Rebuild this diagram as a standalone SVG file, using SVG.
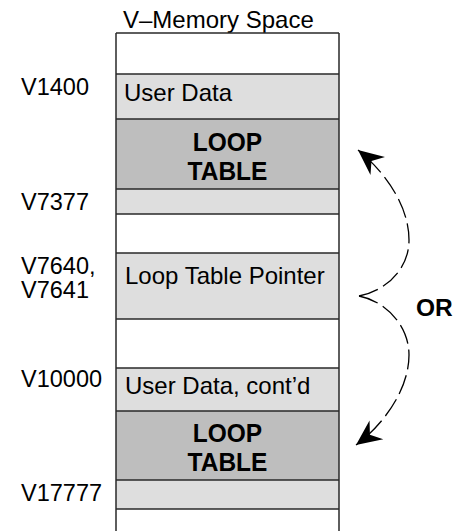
<svg xmlns="http://www.w3.org/2000/svg" width="462" height="531" viewBox="0 0 462 531">
<style>
  text { font-family: "Liberation Sans", Arial, Helvetica, sans-serif; fill: #000; }
  .lbl { font-size: 23.5px; }
  .txt { font-size: 24px; }
  .bold { font-size: 24.5px; font-weight: bold; }
  .white { fill: #ffffff; }
  .light { fill: #dedede; }
  .dark { fill: #bebebe; }
  .sep { stroke: #2a2a2a; stroke-width: 1.5; fill: none; }
  .side { stroke: #2a2a2a; stroke-width: 1.5; fill: none; }
  .conn { stroke: #000; stroke-width: 1.3; fill: none; stroke-dasharray: 20 6; }
</style>
<defs>
  <marker id="arrow" markerUnits="userSpaceOnUse" markerWidth="30" markerHeight="30" viewBox="-24 -12 26 24" refX="0" refY="0" orient="auto">
    <path d="M0,0 L-22,-10 L-15,0 L-22,10 Z" fill="#000"/>
  </marker>
</defs>

<text id="title" class="txt" x="123" y="28">V–Memory Space</text>

<g id="labels">
  <text class="lbl" x="21" y="95">V1400</text>
  <text class="lbl" x="21" y="210">V7377</text>
  <text class="lbl" x="21" y="274">V7640,</text>
  <text class="lbl" x="21" y="298">V7641</text>
  <text class="lbl" x="21" y="387">V10000</text>
  <text class="lbl" x="21" y="501">V17777</text>
</g>

<g id="row-top"><rect class="white" x="116" y="33" width="223" height="41"/></g>
<g id="row-userdata"><rect class="light" x="116" y="74" width="223" height="45"/><text class="txt" x="124" y="101">User Data</text></g>
<g id="row-looptable1"><rect class="dark" x="116" y="119" width="223" height="70"/><text class="bold" text-anchor="middle" transform="translate(227.5,151) scale(1,1.08)">LOOP</text><text class="bold" text-anchor="middle" transform="translate(227.5,180) scale(1,1.08)">TABLE</text></g>
<g id="row-v7377"><rect class="light" x="116" y="189" width="223" height="25"/></g>
<g id="row-gap1"><rect class="white" x="116" y="214" width="223" height="39"/></g>
<g id="row-pointer"><rect class="light" x="116" y="253" width="223" height="66"/><text class="txt" x="125" y="284">Loop Table Pointer</text></g>
<g id="row-gap2"><rect class="white" x="116" y="319" width="223" height="49"/></g>
<g id="row-userdata2"><rect class="light" x="116" y="368" width="223" height="43"/><text class="txt" x="125" y="394">User Data, cont’d</text></g>
<g id="row-looptable2"><rect class="dark" x="116" y="411" width="223" height="69"/><text class="bold" text-anchor="middle" transform="translate(227.5,442) scale(1,1.08)">LOOP</text><text class="bold" text-anchor="middle" transform="translate(227.5,471) scale(1,1.08)">TABLE</text></g>
<g id="row-v17777"><rect class="light" x="116" y="480" width="223" height="29"/></g>
<g id="row-bottom"><rect class="white" x="116" y="509" width="223" height="24"/></g>

<g id="box-lines">
  <path class="side" d="M116,33 V531 M339,33 V531 M116,33 H339"/>
  <path class="sep" d="M116,74 H339 M116,119 H339 M116,189 H339 M116,214 H339 M116,253 H339 M116,319 H339 M116,368 H339 M116,411 H339 M116,480 H339 M116,509 H339"/>
</g>

<g id="connectors">
  <path class="conn" d="M359,296 C385,291 409,270 409,240 C409,205 384,171 358,150" marker-end="url(#arrow)"/>
  <path class="conn" d="M359,296 C385,301 409,325 409,355 C409,390 383,425 356,445" marker-end="url(#arrow)"/>
</g>

<text id="or" class="bold" x="416" y="316">OR</text>
</svg>
